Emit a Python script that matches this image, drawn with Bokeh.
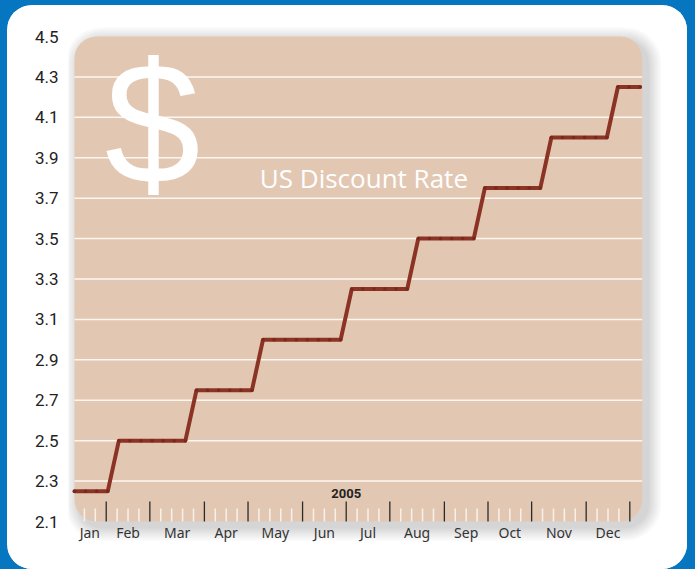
from bokeh.plotting import figure
from bokeh.layouts import column
from bokeh.models import Range1d, LinearAxis, FixedTicker, BoxAnnotation
from bokeh.core.properties import value
from bokeh.embed import file_html
from bokeh.resources import INLINE

# ---------------- data ----------------
weeks = [0, 1, 2, 3, 4, 5, 6, 7, 8, 9, 10, 11, 12, 13, 14, 15, 16, 17, 18, 19,
         20, 21, 22, 23, 24, 25, 26, 27, 28, 29, 30, 31, 32, 33, 34, 35, 36, 37,
         38, 39, 40, 41, 42, 43, 44, 45, 46, 47, 48, 49, 50, 51]
rates = [2.25, 2.25, 2.25, 2.25,
         2.50, 2.50, 2.50, 2.50, 2.50, 2.50, 2.50,
         2.75, 2.75, 2.75, 2.75, 2.75, 2.75,
         3.00, 3.00, 3.00, 3.00, 3.00, 3.00, 3.00, 3.00,
         3.25, 3.25, 3.25, 3.25, 3.25, 3.25,
         3.50, 3.50, 3.50, 3.50, 3.50, 3.50,
         3.75, 3.75, 3.75, 3.75, 3.75, 3.75,
         4.00, 4.00, 4.00, 4.00, 4.00, 4.00,
         4.25, 4.25, 4.25]
months = ["Jan", "Feb", "Mar", "Apr", "May", "Jun",
          "Jul", "Aug", "Sep", "Oct", "Nov", "Dec"]
month_end_slots = [3, 7, 12, 16, 21, 25, 29, 34, 38, 42, 47, 51]
month_mid_slots = [1.5, 5, 9.5, 14, 18.5, 23, 27, 31.5, 36, 40, 44.5, 49]
y_ticks = [2.1, 2.3, 2.5, 2.7, 2.9, 3.1, 3.3, 3.5, 3.7, 3.9, 4.1, 4.3, 4.5]
y_labels = ["2.1", "2.3", "2.5", "2.7", "2.9", "3.1", "3.3", "3.5", "3.7",
            "3.9", "4.1", "4.3", "4.5"]
grid_values = [2.3, 2.5, 2.7, 2.9, 3.1, 3.3, 3.5, 3.7, 3.9, 4.1, 4.3]
year_label = "2005"
title_text = "US Discount Rate"

# ---------------- layout (page pixels) ----------------
BLUE = "#0776c0"
TAN = "#e2c8b3"
LINE = "#8b3324"
PANEL_L, PANEL_T, PANEL_W, PANEL_H = 7, 5, 680, 564
FR_L, FR_R, FR_T, FR_B = 68, 687, 5, 541            # frame (incl. shadow room)
TAN_L, TAN_R, TAN_T, TAN_B = 74, 641.7, 36, 521     # rounded plot area
Y_PX = (TAN_B - TAN_T) / (4.5 - 2.1)                # pixels per rate unit
WEEK_PX = 11.09                                     # pixels per data week
SLOT_PX = 10.908                                    # pixels per ruler slot
SLOT0 = 73.0

x_range = Range1d((FR_L - TAN_L) / WEEK_PX, (FR_R - TAN_L) / WEEK_PX)
y_range = Range1d(2.1 - (FR_B - TAN_B) / Y_PX, 2.1 + (TAN_B - FR_T) / Y_PX)

p = figure(width=PANEL_W, height=PANEL_H, x_range=x_range, y_range=y_range,
           x_axis_type=None, y_axis_type=None,
           output_backend="svg", toolbar_location=None,
           min_border_left=FR_L - PANEL_L, min_border_right=PANEL_L + PANEL_W - FR_R,
           min_border_top=FR_T - PANEL_T, min_border_bottom=PANEL_T + PANEL_H - FR_B)
p.border_fill_color = "white"
p.background_fill_color = "white"
p.outline_line_color = None
p.margin = (PANEL_T, 695 - PANEL_L - PANEL_W, 0, PANEL_L)
p.styles = {"border-radius": "25px", "overflow": "hidden", "background-color": "white"}
p.extra_x_ranges = {
    "slots": Range1d((FR_L - SLOT0) / SLOT_PX, (FR_R - SLOT0) / SLOT_PX),
    "px": Range1d(FR_L - TAN_L, FR_R - TAN_L),
}
p.extra_y_ranges = {"px": Range1d(TAN_B - FR_B, TAN_B - FR_T)}
TW, TH = TAN_R - TAN_L, TAN_B - TAN_T

# soft shadow behind plot area
for e in [14, 12, 10, 8, 6, 4, 2]:
    p.add_layout(BoxAnnotation(left=5 - e, right=TW + 5 + e, top=TH - 5 + e, bottom=-5 - e,
                               x_range_name="px", y_range_name="px",
                               fill_color="black", fill_alpha=0.022,
                               line_color=None, border_radius=22 + e, level="image"))
# tan rounded plot area
p.add_layout(BoxAnnotation(left=0, right=TW, top=TH, bottom=0,
                           x_range_name="px", y_range_name="px",
                           fill_color=TAN, fill_alpha=1.0,
                           line_color=None, border_radius=22, level="image"))

# horizontal gridlines across the plot area
n = len(grid_values)
p.segment(x0=[0] * n, x1=[TW] * n, y0=grid_values, y1=grid_values,
          x_range_name="px", line_color="#fdf6f0", line_width=1.5)

# ruler ticks inside bottom of plot area
minor_slots = [s for s in range(1, 51) if s not in month_end_slots]
m = len(minor_slots)
p.segment(x0=minor_slots, y0=[0] * m, x1=minor_slots, y1=[13] * m,
          x_range_name="slots", y_range_name="px", line_color="#f8f1ea", line_width=1.5)
p.segment(x0=month_end_slots, y0=[0] * 12, x1=month_end_slots, y1=[20] * 12,
          x_range_name="slots", y_range_name="px", line_color="#2a2a2a", line_width=1.3)

p.text(x=[25], y=[28], text=[year_label], x_range_name="slots", y_range_name="px",
       text_font=value("Roboto"), text_font_style="bold", text_font_size="13px",
       text_color="#222222", text_align="center", text_baseline="alphabetic")

# big dollar sign and title
p.text(x=[78], y=[399], text=["$"], x_range_name="px", y_range_name="px",
       text_font=value("Liberation Sans"), text_font_size="172px", text_color="white",
       text_align="center", text_baseline="alphabetic")
p.text(x=[289.4], y=[344], text=[title_text], x_range_name="px", y_range_name="px",
       text_font=value("Open Sans"), text_font_size="26px", text_color="white",
       text_align="center", text_baseline="alphabetic")

# data line with subtle weekly point marks
p.line(weeks, rates, line_color=LINE, line_width=4, line_join="round", line_cap="round")
p.scatter(weeks, rates, marker="circle", size=3.5, fill_color="#78291d",
          line_color=None)

# axes
yax = LinearAxis(ticker=FixedTicker(ticks=y_ticks),
                 major_label_overrides=dict(zip(y_ticks, y_labels)),
                 axis_line_color=None, major_tick_line_color=None, minor_tick_line_color=None,
                 major_tick_out=0, major_tick_in=0, major_label_standoff=10,
                 major_label_text_font="Roboto", major_label_text_font_size="17px",
                 major_label_text_color="#222222")
p.add_layout(yax, "left")

xax = LinearAxis(x_range_name="slots", ticker=FixedTicker(ticks=month_mid_slots),
                 major_label_overrides=dict(zip(month_mid_slots, months)),
                 axis_line_color=None, major_tick_line_color=None, minor_tick_line_color=None,
                 major_tick_out=0, major_tick_in=0, major_label_standoff=-19,
                 major_label_text_font="Noto Sans", major_label_text_font_size="14px",
                 major_label_text_color="#333333")
p.add_layout(xax, "below")

page = column(p, width=695, height=569, styles={"background-color": BLUE})

open("out.html", "w").write(file_html(page, INLINE))
